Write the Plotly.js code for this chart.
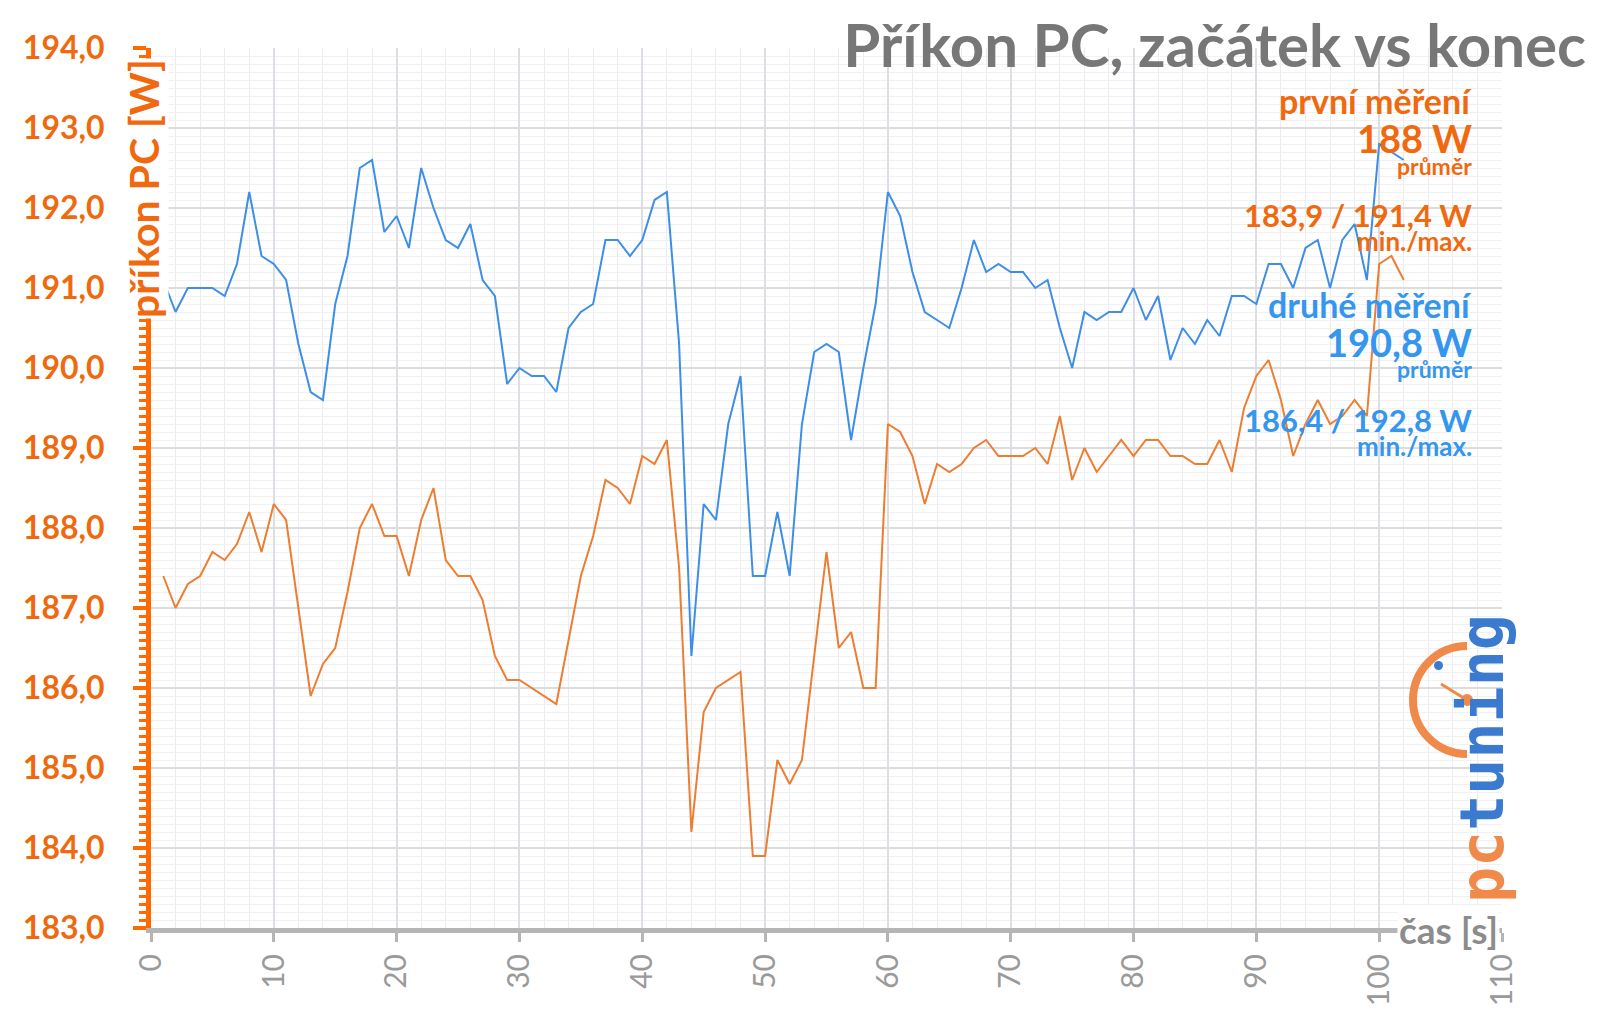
<!DOCTYPE html>
<html>
<head>
<meta charset="utf-8">
<script src="https://cdn.plot.ly/plotly-3.0.1.min.js"></script>
<style>html,body{margin:0;padding:0;background:#fff;}#chart{width:1600px;height:1011px;}</style>
</head>
<body>
<div id="chart"></div>
<script>
// ---- data ----
const casS = Array.from({length: 102}, (_, i) => i + 1); // time in seconds 1..102

const prvniMereni = [
  187.4, 187.0, 187.3, 187.4, 187.7, 187.6, 187.8, 188.2, 187.7, 188.3,
  188.1, 187.0, 185.9, 186.3, 186.5, 187.2, 188.0, 188.3, 187.9, 187.9,
  187.4, 188.1, 188.5, 187.6, 187.4, 187.4, 187.1, 186.4, 186.1, 186.1,
  186.0, 185.9, 185.8, 186.6, 187.4, 187.9, 188.6, 188.5, 188.3, 188.9,
  188.8, 189.1, 187.5, 184.2, 185.7, 186.0, 186.1, 186.2, 183.9, 183.9,
  185.1, 184.8, 185.1, 186.4, 187.7, 186.5, 186.7, 186.0, 186.0, 189.3,
  189.2, 188.9, 188.3, 188.8, 188.7, 188.8, 189.0, 189.1, 188.9, 188.9,
  188.9, 189.0, 188.8, 189.4, 188.6, 189.0, 188.7, 188.9, 189.1, 188.9,
  189.1, 189.1, 188.9, 188.9, 188.8, 188.8, 189.1, 188.7, 189.5, 189.9,
  190.1, 189.6, 188.9, 189.3, 189.6, 189.3, 189.4, 189.6, 189.4, 191.3,
  191.4, 191.1
];

const druheMereni = [
  191.1, 190.7, 191.0, 191.0, 191.0, 190.9, 191.3, 192.2, 191.4, 191.3,
  191.1, 190.3, 189.7, 189.6, 190.8, 191.4, 192.5, 192.6, 191.7, 191.9,
  191.5, 192.5, 192.0, 191.6, 191.5, 191.8, 191.1, 190.9, 189.8, 190.0,
  189.9, 189.9, 189.7, 190.5, 190.7, 190.8, 191.6, 191.6, 191.4, 191.6,
  192.1, 192.2, 190.3, 186.4, 188.3, 188.1, 189.3, 189.9, 187.4, 187.4,
  188.2, 187.4, 189.3, 190.2, 190.3, 190.2, 189.1, 190.0, 190.8, 192.2,
  191.9, 191.2, 190.7, 190.6, 190.5, 191.0, 191.6, 191.2, 191.3, 191.2,
  191.2, 191.0, 191.1, 190.5, 190.0, 190.7, 190.6, 190.7, 190.7, 191.0,
  190.6, 190.9, 190.1, 190.5, 190.3, 190.6, 190.4, 190.9, 190.9, 190.8,
  191.3, 191.3, 191.0, 191.5, 191.6, 191.0, 191.6, 191.8, 191.1, 192.8,
  192.7, 192.6
];

const yTickVals = [183, 184, 185, 186, 187, 188, 189, 190, 191, 192, 193, 194];
const xTickVals = [0, 10, 20, 30, 40, 50, 60, 70, 80, 90, 100, 110];

const titleText = 'Příkon PC, začátek vs konec';
const yTitleText = 'příkon PC [W]';
const xTitleText = 'čas [s]';
const statsPrvni = ['první měření', '188 W', 'průměr', '183,9 / 191,4 W', 'min./max.'];
const statsDruhe = ['druhé měření', '190,8 W', 'průměr', '186,4 / 192,8 W', 'min./max.'];

// ---- styles ----
const ORANGE_LINE = '#ED7D31';
const BLUE_LINE = '#3D8EE6';
const ORANGE_TXT = '#F0690E';
const ORANGE_AX = '#FF6A00';
const BLUE_TXT = '#3596EE';
const GREY_TXT = '#777777';
const FONT = 'Lato, "Open Sans", sans-serif';

const L = 151, T = 48, W = 1351, H = 880;
const px = x => (x - L) / W;
const py = y => (T + H - y) / H;

function stat(text, y, size, color) {
  return {
    text: '<b>' + text + '</b>', xref: 'paper', yref: 'paper',
    x: px(1473), y: py(y), xanchor: 'right', yanchor: 'middle',
    showarrow: false, borderpad: 0,
    font: {family: FONT, size: size, color: color}
  };
}

const annotations = [
  stat(statsPrvni[0], 100, 34, ORANGE_TXT),
  stat(statsPrvni[1], 138, 38, ORANGE_TXT),
  stat(statsPrvni[2], 166, 23, ORANGE_TXT),
  stat(statsPrvni[3], 215, 31, ORANGE_TXT),
  stat(statsPrvni[4], 241, 26, ORANGE_TXT),
  stat(statsDruhe[0], 304, 34, BLUE_TXT),
  stat(statsDruhe[1], 342, 38, BLUE_TXT),
  stat(statsDruhe[2], 369, 23, BLUE_TXT),
  stat(statsDruhe[3], 420, 31, BLUE_TXT),
  stat(statsDruhe[4], 446, 26, BLUE_TXT),
  { // y axis title over the axis line
    text: '<b>' + yTitleText + '</b>', textangle: -90, xref: 'paper', yref: 'paper',
    x: px(143), y: py(189), xanchor: 'center', yanchor: 'middle', showarrow: false,
    bgcolor: '#ffffff', borderpad: 0,
    font: {family: FONT, size: 41, color: ORANGE_TXT}
  },
  { // x axis title at end of axis
    text: '<b>' + xTitleText + '</b>', xref: 'paper', yref: 'paper',
    x: px(1448), y: py(930), xanchor: 'center', yanchor: 'middle', showarrow: false,
    bgcolor: '#ffffff', borderpad: 1,
    font: {family: FONT, size: 37, color: '#8c8c8c'}
  },
  { // logo text
    text: '<span style="color:#F08A4B">pc</span><span style="color:#3A7BCF">tuning</span>',
    textangle: -90, xref: 'paper', yref: 'paper',
    x: px(1482), y: py(759), xanchor: 'center', yanchor: 'middle', showarrow: false,
    font: {family: '"DejaVu Sans Mono", monospace', size: 60, weight: 'bold'}
  }
];

const anchorX = px(1467), anchorY = py(700);
const shapes = [
  {type: 'path', xref: 'paper', yref: 'paper', xsizemode: 'pixel', ysizemode: 'pixel',
   xanchor: anchorX, yanchor: anchorY,
   path: 'M 0,54 C -29.8,54 -54,29.8 -54,0 C -54,-29.8 -29.8,-54 0,-54',
   line: {color: '#F08A4B', width: 8}},
  {type: 'circle', xref: 'paper', yref: 'paper', xsizemode: 'pixel', ysizemode: 'pixel',
   xanchor: anchorX, yanchor: anchorY, x0: -33, x1: -24, y0: 30, y1: 39,
   fillcolor: '#3A7BCF', line: {width: 0}},
  {type: 'path', xref: 'paper', yref: 'paper', xsizemode: 'pixel', ysizemode: 'pixel',
   xanchor: anchorX, yanchor: anchorY, path: 'M -26,16 L 0,0',
   line: {color: '#F08A4B', width: 3}},
  {type: 'circle', xref: 'paper', yref: 'paper', xsizemode: 'pixel', ysizemode: 'pixel',
   xanchor: anchorX, yanchor: anchorY, x0: -6, x1: 6, y0: -6, y1: 6,
   fillcolor: '#F08A4B', line: {width: 0}}
];

const traces = [
  {x: casS, y: druheMereni, type: 'scatter', mode: 'lines', name: 'druhé měření',
   line: {color: BLUE_LINE, width: 2}},
  {x: casS, y: prvniMereni, type: 'scatter', mode: 'lines', name: 'první měření',
   line: {color: ORANGE_LINE, width: 2}}
];

const layout = {
  width: 1600, height: 1011,
  margin: {l: L, r: 1600 - L - W, t: T, b: 1011 - T - H, pad: 0},
  paper_bgcolor: '#ffffff', plot_bgcolor: '#ffffff',
  showlegend: false,
  separators: ', ',
  title: {
    text: '<b>' + titleText + '</b>', xref: 'container', yref: 'container',
    x: 1586 / 1600, xanchor: 'right', y: 1 - 46 / 1011, yanchor: 'middle',
    font: {family: FONT, size: 60, color: GREY_TXT}
  },
  xaxis: {
    range: [0, 110], tickmode: 'array', tickvals: xTickVals,
    tickangle: -90, ticks: 'outside', ticklen: 9, tickwidth: 3, tickcolor: '#b5b5b5',
    tickfont: {family: FONT, size: 30, color: '#9a9a9a'},
    showline: true, linecolor: '#b5b5b5', linewidth: 5,
    showgrid: true, gridcolor: '#dcdee4', gridwidth: 2,
    zeroline: false, fixedrange: true,
    minor: {dtick: 2, showgrid: true, gridcolor: '#ececef', gridwidth: 1, ticks: ''}
  },
  yaxis: {
    range: [183, 194], tickmode: 'array', tickvals: yTickVals, tickformat: '.1f',
    ticks: 'outside', ticklen: 13, tickwidth: 4, tickcolor: ORANGE_AX,
    ticklabelstandoff: 22,
    tickfont: {family: FONT, size: 32, color: ORANGE_TXT, weight: 'bold'},
    showline: true, linecolor: ORANGE_AX, linewidth: 5,
    showgrid: true, gridcolor: '#dcdcdc', gridwidth: 2,
    zeroline: false, fixedrange: true,
    minor: {dtick: 0.1, showgrid: true, gridcolor: '#f1f1f3', gridwidth: 1,
            ticks: 'outside', ticklen: 7, tickwidth: 3, tickcolor: ORANGE_AX}
  },
  annotations: annotations,
  shapes: shapes
};

Plotly.newPlot('chart', traces, layout, {staticPlot: true, displayModeBar: false});
</script>
</body>
</html>
